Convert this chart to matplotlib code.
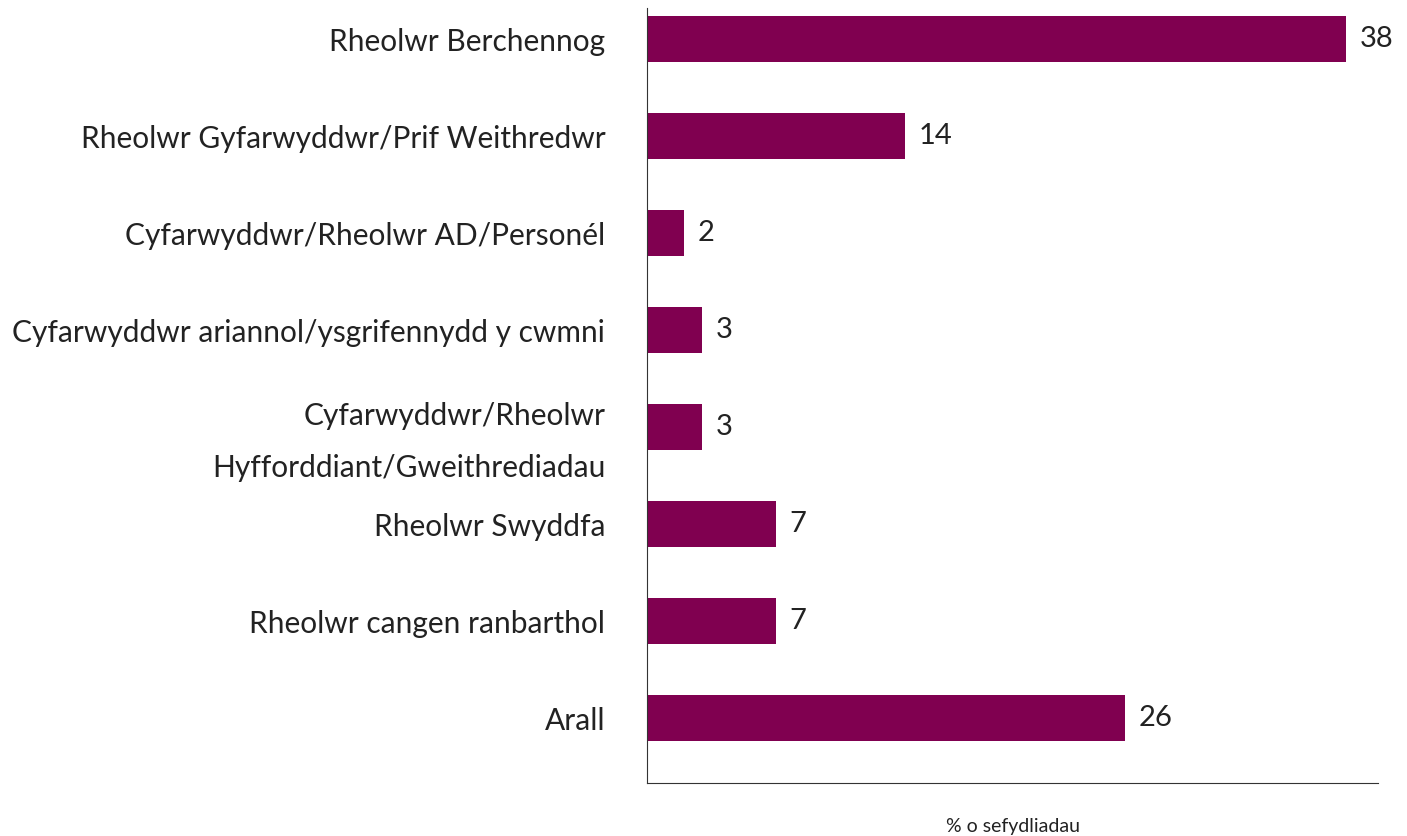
import matplotlib
matplotlib.use("Agg")
import matplotlib.pyplot as plt

categories = [
    "Rheolwr Berchennog",
    "Rheolwr Gyfarwyddwr/Prif Weithredwr",
    "Cyfarwyddwr/Rheolwr AD/Personél",
    "Cyfarwyddwr ariannol/ysgrifennydd y cwmni",
    "Cyfarwyddwr/Rheolwr\nHyfforddiant/Gweithrediadau",
    "Rheolwr Swyddfa",
    "Rheolwr cangen ranbarthol",
    "Arall",
]
values = [38, 14, 2, 3, 3, 7, 7, 26]
xlabel = "% o sefydliadau"

plt.rcParams['font.family'] = ['Lato', 'DejaVu Sans']

fig = plt.figure(figsize=(14.07, 8.36), dpi=100)
ax = fig.add_axes([647/1407, 1-783/836, (1378-647)/1407, (783-8)/836])

ypos = list(range(len(categories)))
ax.barh(ypos, values, height=0.47, color="#800050")
for y, v in zip(ypos, values):
    ax.text(v + 0.75, y, str(v), va="center", ha="left", fontsize=21, color="#222222")

ax.set_yticks(ypos)
ax.set_yticklabels(categories, fontsize=21.5, color="#222222", linespacing=2.05)
ax.invert_yaxis()
ax.set_ylim(len(categories) - 1 + 0.67, -0.32)
ax.set_xlim(0, 39.74)
ax.set_xticks([])
ax.tick_params(axis='y', length=0, pad=30)
for s in ["top", "right"]:
    ax.spines[s].set_visible(False)
ax.spines["left"].set_color("#333333")
ax.spines["bottom"].set_color("#333333")
ax.set_xlabel(xlabel, fontsize=14, color="#222222", labelpad=25)

fig.savefig("out.png", dpi=100)
